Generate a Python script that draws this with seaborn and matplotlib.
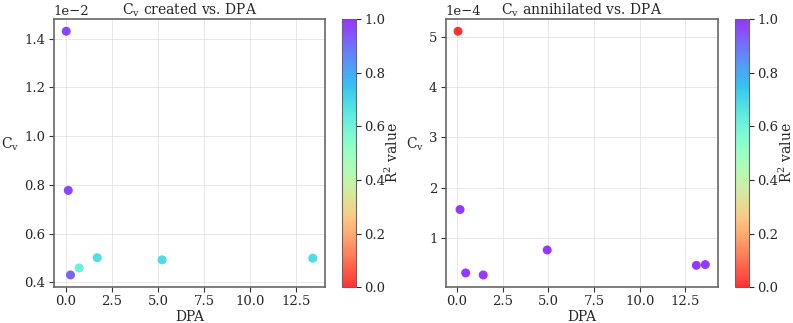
"""
Cv created / annihilated vs. DPA, coloured by R^2 of the fit.
"""

## Import packages
import numpy as np
import pandas as pd
import matplotlib
matplotlib.use('Agg')
import matplotlib.pyplot as plt
import seaborn as sns


## Data
# Cv created
dpa_created = [0.02, 0.13, 0.25, 0.72, 1.70, 5.22, 13.39]
cv_created = [1.430e-2, 0.777e-2, 0.430e-2, 0.459e-2, 0.501e-2, 0.492e-2, 0.499e-2]
r2_created = [0.97, 0.97, 0.92, 0.62, 0.68, 0.69, 0.69]

# Cv annihilated
dpa_annih = [0.06, 0.17, 0.48, 1.44, 4.94, 13.10, 13.59]
cv_annih = [5.106e-4, 1.571e-4, 0.314e-4, 0.274e-4, 0.769e-4, 0.465e-4, 0.480e-4]
r2_annih = [0.0, 0.99, 0.99, 0.99, 0.99, 0.99, 0.99]

df_created = pd.DataFrame({'DPA': dpa_created, 'Cv': cv_created, 'R2': r2_created})
df_annih = pd.DataFrame({'DPA': dpa_annih, 'Cv': cv_annih, 'R2': r2_annih})


## Style
sns.set_style('ticks')
plt.rcParams['font.family'] = ['DejaVu Serif']
plt.rcParams['mathtext.fontset'] = 'dejavuserif'
plt.rcParams['font.size'] = 9.5

fs = 9.5
cmap = 'rainbow_r'
norm = matplotlib.colors.Normalize(vmin=0, vmax=1)


## Create figure
fig = plt.figure(figsize=(7.93, 3.23), dpi=100)

axes = [fig.add_axes([0.068, 0.111, 0.342, 0.830]),
        fig.add_axes([0.562, 0.111, 0.343, 0.830])]
caxes = [fig.add_axes([0.431, 0.111, 0.0177, 0.830]),
         fig.add_axes([0.927, 0.111, 0.0177, 0.830])]

panels = [(df_created, r'$\mathrm{C_v}$ created vs. DPA'),
          (df_annih, r'$\mathrm{C_v}$ annihilated vs. DPA')]

for ax, cax, (data, title) in zip(axes, caxes, panels):
    sns.scatterplot(ax=ax, data=data, x='DPA', y='Cv', hue='R2',
                    palette=cmap, hue_norm=norm, s=42, alpha=0.8,
                    linewidth=0, legend=False, zorder=3)

    ax.set_title(title, fontsize=fs + 0.5, pad=3)
    ax.set_xlabel('DPA', fontsize=fs + 0.5, labelpad=1)
    ax.set_ylabel(r'$\mathrm{C_v}$', fontsize=fs + 0.5, rotation=0, labelpad=10)
    ax.ticklabel_format(axis='y', style='sci', scilimits=(0, 0))
    ax.yaxis.get_offset_text().set_fontsize(fs)
    ax.set_xticks([0, 2.5, 5, 7.5, 10, 12.5])
    ax.grid(True, color='0.85', linewidth=0.6, alpha=0.7)
    for sp in ax.spines.values():
        sp.set_color('0.4')
        sp.set_linewidth(1.2)
    ax.tick_params(labelsize=fs, color='0.2', pad=2.5)

    # Colour bar
    sm = matplotlib.cm.ScalarMappable(norm=norm, cmap=cmap)
    cb = fig.colorbar(sm, cax=cax, alpha=0.8)
    cb.set_label(r'R$^2$ value', fontsize=fs + 0.5, labelpad=-1)
    cb.outline.set_edgecolor('0.4')
    cax.tick_params(labelsize=fs, pad=2.5)

# Save figure
plt.savefig('out.png', dpi=100)
